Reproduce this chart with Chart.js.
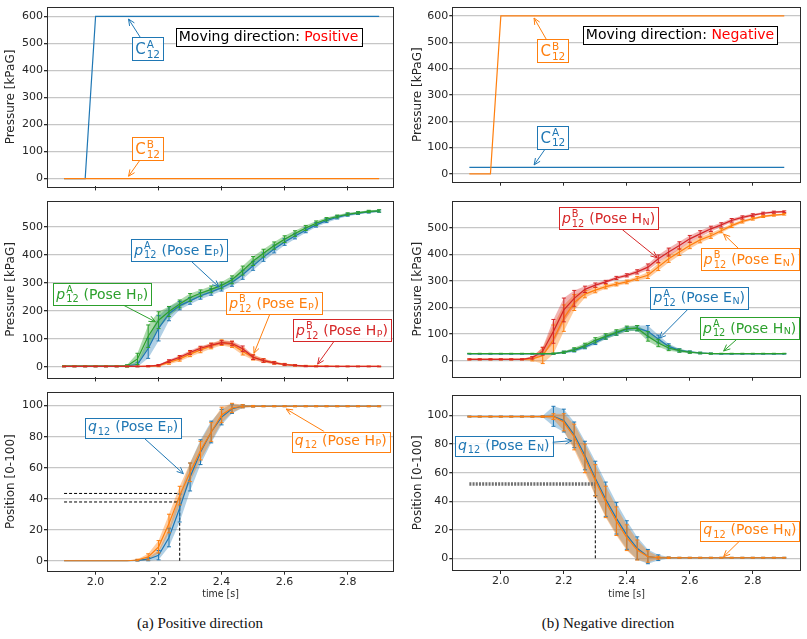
<!DOCTYPE html>
<html><head><meta charset="utf-8">
<script src="https://cdn.jsdelivr.net/npm/chart.js@4.4.0/dist/chart.umd.min.js"></script>
<style>
html,body{margin:0;padding:0;background:#fff;width:807px;height:639px;overflow:hidden;position:relative;}
canvas{position:absolute;}
.cap{position:absolute;font-family:'Liberation Serif','DejaVu Serif',serif;font-size:15px;color:#111;text-align:center;width:300px;line-height:18px;}
</style></head><body>
<div class="cap" style="left:50px;top:614px;">(a) Positive direction</div>
<div class="cap" style="left:458px;top:614px;">(b) Negative direction</div>
<script>
// ---------------- data ----------------
const T = [1.900,1.933,1.967,2.000,2.033,2.067,2.100,2.133,2.167,2.200,2.233,2.267,2.300,2.333,2.367,2.400,2.433,2.467,2.500,2.533,2.567,2.600,2.633,2.667,2.700,2.733,2.767,2.800,2.833,2.867,2.900];
const X_TICKS = [2.0,2.2,2.4,2.6,2.8];
const Y_TICKS_CMD = [0,100,200,300,400,500,600];
const Y_TICKS_P = [0,100,200,300,400,500];
const Y_TICKS_Q = [0,20,40,60,80,100];

// (a) positive: command pressures
const cA_pos = [0,0,0,600,600,600,600,600,600,600,600,600,600,600,600,600,600,600,600,600,600,600,600,600,600,600,600,600,600,600,600];
const cB_pos = [0,0,0,0,0,0,0,0,0,0,0,0,0,0,0,0,0,0,0,0,0,0,0,0,0,0,0,0,0,0,0];
// (b) negative: command pressures
const cB_neg = [0,0,0,600,600,600,600,600,600,600,600,600,600,600,600,600,600,600,600,600,600,600,600,600,600,600,600,600,600,600,600];
const cA_neg = [24,24,24,24,24,24,24,24,24,24,24,24,24,24,24,24,24,24,24,24,24,24,24,24,24,24,24,24,24,24,24];

// (a) measured pressures
const pA_EP    = [3,3,3,3,3,3,4,9,66,138,190,219,236,254,268,283,302,329,361,392,421,446,467,488,507,522,534,543,549,553,556];
const pA_EP_sd = [2,2,2,2,2,2,3,8,35,45,25,15,12,12,12,12,14,16,16,15,14,12,10,9,8,7,6,5,5,4,4];
const pA_HP    = [3,3,3,3,3,3,4,29,110,167,198,225,248,263,277,291,311,344,378,406,433,456,476,496,513,527,537,545,550,555,557];
const pA_HP_sd = [2,2,2,2,2,2,4,20,40,30,18,14,14,12,12,12,14,16,16,14,13,12,10,9,8,6,5,5,4,4,4];
const pB_EP    = [2,2,2,2,2,2,2,2,3,5,16,29,46,61,75,87,81,55,35,23,15,9,6,4,3,3,2,2,2,2,2];
const pB_EP_sd = [1,1,1,1,1,1,1,1,2,4,6,8,9,10,10,10,11,12,10,7,5,4,3,2,2,1,1,1,1,1,1];
const pB_HP    = [2,2,2,2,2,2,2,2,3,6,21,35,52,67,78,87,84,65,35,23,15,9,6,3,2,2,2,2,2,2,2];
const pB_HP_sd = [1,1,1,1,1,1,1,1,2,3,5,6,7,7,7,7,8,10,8,6,4,3,2,2,1,1,1,1,1,1,1];

// (b) measured pressures
const pB_HN    = [3,3,3,3,3,3,9,34,109,190,234,268,284,296,311,321,334,352,384,409,434,459,478,497,512,529,540,549,556,560,562];
const pB_HN_sd = [2,2,2,2,2,2,5,15,45,45,30,12,8,6,6,6,8,12,14,15,14,13,12,10,8,7,6,5,4,4,3];
const pB_EN    = [3,3,3,3,3,3,5,17,78,159,218,250,265,278,288,296,309,321,353,384,409,434,455,471,490,509,525,535,544,549,552];
const pB_EN_sd = [2,2,2,2,2,2,8,30,55,50,30,14,10,8,7,7,8,12,14,14,13,12,11,10,8,7,6,5,4,4,3];
const pA_EN    = [24,24,24,24,24,24,24,24,24,30,37,50,67,87,102,117,121,109,80,52,37,31,27,25,24,24,24,24,24,24,24];
const pA_EN_sd = [1,1,1,1,1,1,1,1,2,4,6,7,8,8,8,8,10,22,15,10,6,4,3,2,1,1,1,1,1,1,1];
const pA_HN    = [25,25,25,25,25,25,25,25,25,30,40,55,75,90,105,119,121,90,65,46,36,30,27,25,25,25,25,25,25,25,25];
const pA_HN_sd = [1,1,1,1,1,1,1,1,2,4,7,9,10,10,10,10,10,18,14,10,6,4,3,2,1,1,1,1,1,1,1];

// (a) positions
const q_EP    = [0,0,0,0,0,0,0,0.3,1,3.6,15,34,54,70,83,92.6,98,99.6,99.6,99.6,99.6,99.6,99.6,99.6,99.6,99.6,99.6,99.6,99.6,99.6,99.6];
const q_EP_sd = [0,0,0,0,0,0,0,0.5,1,3,6,9,9,8,7,5,3,1,0.5,0.3,0.3,0.3,0.3,0.3,0.3,0.3,0.3,0.3,0.3,0.3,0.3];
const q_HP    = [0,0,0,0,0,0,0,0.5,2.5,9,24,42,57,71,83,94,98.5,99.6,99.6,99.6,99.6,99.6,99.6,99.6,99.6,99.6,99.6,99.6,99.6,99.6,99.6];
const q_HP_sd = [0,0,0,0,0,0,0,0.5,2,4,6,6,6,6,6,5,3,1,0.5,0.3,0.3,0.3,0.3,0.3,0.3,0.3,0.3,0.3,0.3,0.3,0.3];
// (b) positions
const q_EN    = [99.3,99.3,99.3,99.3,99.3,99.3,99.3,99.3,99.5,96.5,86.5,72,56,41.4,28,16.3,7,1.2,0.4,0.4,0.4,0.4,0.4,0.4,0.4,0.4,0.4,0.4,0.4,0.4,0.4];
const q_EN_sd = [0.3,0.3,0.3,0.3,0.3,0.3,0.3,0.5,7,8,9,10,12,12,11,10,8,5,2,0.5,0.3,0.3,0.3,0.3,0.3,0.3,0.3,0.3,0.3,0.3,0.3];
const q_HN    = [99.3,99.3,99.3,99.3,99.3,99.3,99.3,99.3,99.3,95.3,85,70,54.6,39.5,26,14.4,5.8,1.2,0.4,0.4,0.4,0.4,0.4,0.4,0.4,0.4,0.4,0.4,0.4,0.4,0.4];
const q_HN_sd = [0.3,0.3,0.3,0.3,0.3,0.3,0.3,0.5,2,6,9,10,11,11,10,9,7,4,1,0.5,0.3,0.3,0.3,0.3,0.3,0.3,0.3,0.3,0.3,0.3,0.3];

// reference (dashed) guides
const REF_START = 1.9;
const POS_REF_LEVELS = [43.4, 37.9];
const POS_REF_TIME = 2.267;
const NEG_REF_LEVEL = 52.1;
const NEG_REF_TIME = 2.300;

// ---------------- styling ----------------
const BLUE='#1f77b4', ORANGE='#ff7f0e', GREEN='#2ca02c', RED='#d62728';
const FONT='"DejaVu Sans", "Liberation Sans", sans-serif';
function rgba(hex,a){const n=parseInt(hex.slice(1),16);return `rgba(${n>>16},${(n>>8)&255},${n&255},${a})`;}
function pts(v){return T.map((t,i)=>({x:t,y:v[i]}));}
function lineDs(v,color,sd){return {data:pts(v),borderColor:color,borderWidth:1.2,pointRadius:0,fill:false,errs:sd||null};}
function bandDs(v,sd,color,a){return [
  {data:T.map((t,i)=>({x:t,y:v[i]-sd[i]})),borderWidth:0,borderColor:'rgba(0,0,0,0)',pointRadius:0,fill:false},
  {data:T.map((t,i)=>({x:t,y:v[i]+sd[i]})),borderWidth:0,borderColor:'rgba(0,0,0,0)',pointRadius:0,fill:'-1',backgroundColor:rgba(color,a)}];}
function segLine(x1,y1,x2,y2,color,w,dash){return {data:[{x:x1,y:y1},{x:x2,y:y2}],borderColor:color,borderWidth:w,borderDash:dash,pointRadius:0,fill:false};}

// rich-text label segments
function segP(ab,pose,ps){return [{t:'p',it:1},{sup:ab,sub:'12'},{t:' (Pose '+pose},{lo:ps},{t:')'}];}
function segQ(pose,ps){return [{t:'q',it:1},{sub:'12'},{t:' (Pose '+pose},{lo:ps},{t:')'}];}
function segC(ab){return [{t:'C'},{sup:ab,sub:'12'}];}
function fstr(s,it){return (it?'italic ':'')+s+'px '+FONT;}

function layoutRich(ctx,segs,S){
  let w=0,top=0,bot=0;const parts=[];
  for(const g of segs){
    if(g.t!==undefined){
      const f=fstr(S,g.it);ctx.font=f;const m=ctx.measureText(g.t).width;
      parts.push({x:w,text:g.t,font:f,dy:0,color:g.color});w+=m;
      top=Math.min(top,-0.76*S);bot=Math.max(bot,0.2*S);
    } else if(g.lo!==undefined){
      const ss=S*0.68,f=fstr(ss);ctx.font=f;const m=ctx.measureText(g.lo).width;
      parts.push({x:w+0.5,text:g.lo,font:f,dy:0.12*S});w+=m+0.5;
    } else {
      const ss=S*0.7,f=fstr(ss);ctx.font=f;let mw=0;
      if(g.sup){const m=ctx.measureText(g.sup).width;mw=Math.max(mw,m);parts.push({x:w+1,text:g.sup,font:f,dy:-0.42*S});top=Math.min(top,-0.42*S-0.76*ss);}
      if(g.sub){const m=ctx.measureText(g.sub).width;mw=Math.max(mw,m);parts.push({x:w+1,text:g.sub,font:f,dy:0.26*S});bot=Math.max(bot,0.28*S);}
      w+=mw+1.5;
    }
  }
  return {w,top,bot,parts};
}

function makeNotes(items){return {id:'notes',afterDatasetsDraw(chart){
  const ctx=chart.ctx,xs=chart.scales.x,ys=chart.scales.y;
  items.forEach(it=>{
    const S=it.size||14;
    const L=layoutRich(ctx,it.segs,S);
    const px=3,py=2.5;
    const bw=L.w+2*px,bh=(L.bot-L.top)+2*py;
    const cx=xs.getPixelForValue(it.at[0]),cy=ys.getPixelForValue(it.at[1]);
    const bx=cx-bw/2,by=cy-bh/2;
    ctx.save();
    if(it.to){
      const tx=xs.getPixelForValue(it.to[0]),ty=ys.getPixelForValue(it.to[1]);
      const dx=tx-cx,dy=ty-cy;
      const s=Math.min(Math.abs(dx)>0?(bw/2)/Math.abs(dx):1e9,Math.abs(dy)>0?(bh/2)/Math.abs(dy):1e9);
      const sx=cx+dx*s,sy=cy+dy*s;
      const a=Math.atan2(ty-sy,tx-sx);
      const ex=tx-Math.cos(a)*1.5,ey=ty-Math.sin(a)*1.5;
      ctx.strokeStyle=it.color;ctx.lineWidth=1;
      ctx.beginPath();ctx.moveTo(sx,sy);ctx.lineTo(ex,ey);
      ctx.moveTo(ex-7*Math.cos(a-0.42),ey-7*Math.sin(a-0.42));ctx.lineTo(ex,ey);
      ctx.lineTo(ex-7*Math.cos(a+0.42),ey-7*Math.sin(a+0.42));
      ctx.stroke();
    }
    ctx.fillStyle=it.bg||'rgba(255,255,255,0.85)';
    ctx.fillRect(bx,by,bw,bh);
    ctx.strokeStyle=it.color;ctx.lineWidth=1;
    ctx.strokeRect(Math.round(bx)+0.5,Math.round(by)+0.5,Math.round(bw),Math.round(bh));
    const base=by+py-L.top,left=bx+px;
    ctx.textBaseline='alphabetic';ctx.textAlign='left';
    L.parts.forEach(p=>{ctx.font=p.font;ctx.fillStyle=p.color||it.color;ctx.fillText(p.text,left+p.x,base+p.dy);});
    ctx.restore();
  });
}};}

const errPlugin={id:'errbars',afterDatasetDraw(chart,args){
  const ds=chart.data.datasets[args.index];if(!ds.errs)return;
  const ctx=chart.ctx,xs=chart.scales.x,ys=chart.scales.y,a=chart.chartArea;
  ctx.save();ctx.beginPath();ctx.rect(a.left,a.top,a.right-a.left,a.bottom-a.top);ctx.clip();
  ctx.strokeStyle=ds.borderColor;ctx.lineWidth=1;ctx.beginPath();
  ds.data.forEach((p,i)=>{const e=ds.errs[i];if(!(e>0))return;
    const x=xs.getPixelForValue(p.x),y1=ys.getPixelForValue(p.y-e),y2=ys.getPixelForValue(p.y+e);
    ctx.moveTo(x,y1);ctx.lineTo(x,y2);ctx.moveTo(x-2,y1);ctx.lineTo(x+2,y1);ctx.moveTo(x-2,y2);ctx.lineTo(x+2,y2);});
  ctx.stroke();ctx.restore();
}};

const framePlugin={id:'frame',afterDraw(chart){
  const a=chart.chartArea,ctx=chart.ctx;ctx.save();ctx.strokeStyle='#2b2b2b';ctx.lineWidth=1;
  ctx.strokeRect(Math.round(a.left)-0.5,Math.round(a.top)-0.5,Math.round(a.right-a.left)+1,Math.round(a.bottom-a.top)+1);ctx.restore();
}};

function panel(geom,area,xr,yr,yticks,showX,yTitle,dsList,notes){
  const c=document.createElement('canvas');
  c.width=geom.w;c.height=geom.h;c.style.left=geom.x+'px';c.style.top=geom.y+'px';
  c.style.width=geom.w+'px';c.style.height=geom.h+'px';
  document.body.appendChild(c);
  const N=dsList.length;dsList.forEach((d,i)=>{d.order=N-i;});
  new Chart(c,{type:'line',data:{datasets:dsList},
    plugins:[errPlugin,makeNotes(notes),framePlugin],
    options:{responsive:false,animation:false,devicePixelRatio:1,
      layout:{padding:{left:0,top:area.t-geom.y,right:geom.x+geom.w-area.r,bottom:0}},
      plugins:{legend:{display:false},tooltip:{enabled:false}},
      elements:{line:{tension:0},point:{radius:0}},
      scales:{
        x:{type:'linear',min:xr[0],max:xr[1],
          afterBuildTicks:s=>{s.ticks=X_TICKS.map(v=>({value:v}));},
          afterFit:s=>{s.height=geom.y+geom.h-area.b;},
          grid:{drawOnChartArea:false,drawTicks:true,tickLength:4,tickColor:'#2b2b2b',color:'#2b2b2b'},
          border:{display:false},
          ticks:{display:showX,autoSkip:false,maxRotation:0,padding:1,color:'#262626',font:{family:FONT,size:11},callback:v=>Number(v).toFixed(1)},
          title:{display:showX,text:'time [s]',color:'#262626',font:{family:'"DejaVu Sans Condensed", "Liberation Sans", sans-serif',size:10.5},padding:{top:2,bottom:4}}},
        y:{type:'linear',min:yr[0],max:yr[1],
          afterBuildTicks:s=>{s.ticks=yticks.map(v=>({value:v}));},
          afterFit:s=>{s.width=area.l-geom.x;},
          grid:{color:'#c6c6c6',lineWidth:1.3,drawTicks:true,tickLength:4,tickColor:'#2b2b2b'},
          border:{display:false},
          ticks:{autoSkip:false,padding:1,color:'#262626',font:{family:FONT,size:11}},
          title:{display:true,text:yTitle,color:'#262626',font:{family:FONT,size:12},padding:{top:4,bottom:4}}}
      }}});
}

const XL=[1.849,2.944], XR=[1.849,2.950];
const PR='Pressure [kPaG]', PO='Position [0-100]';

// ---------- (a) top ----------
panel({x:0,y:0,w:400,h:194},{l:48,t:7,r:393,b:189},XL,[-29,632.7],Y_TICKS_CMD,false,PR,
  [lineDs(cA_pos,BLUE),lineDs(cB_pos,ORANGE)],
  [{segs:segC('A'),color:BLUE,at:[2.166,479],to:[2.102,595],size:15},
   {segs:segC('B'),color:ORANGE,at:[2.166,110],to:[2.102,4],size:15},
   {segs:[{t:'Moving direction: ',color:'#000'},{t:'Positive',color:'#ff0000'}],color:'#000',at:[2.549,524],bg:'#fff'}]);
// ---------- (a) middle ----------
panel({x:0,y:194,w:400,h:191},{l:48,t:199,r:393,b:380},XL,[-37,590],Y_TICKS_P,false,PR,
  [...bandDs(pA_EP,pA_EP_sd,BLUE,0.35),...bandDs(pA_HP,pA_HP_sd,GREEN,0.4),
   lineDs(pA_EP,BLUE,pA_EP_sd),lineDs(pA_HP,GREEN,pA_HP_sd),
   ...bandDs(pB_EP,pB_EP_sd,ORANGE,0.4),...bandDs(pB_HP,pB_HP_sd,RED,0.35),
   lineDs(pB_EP,ORANGE,pB_EP_sd),lineDs(pB_HP,RED,pB_HP_sd)],
  [{segs:segP('A','E','P'),color:BLUE,at:[2.2655,417],to:[2.395,282]},
   {segs:segP('A','H','P'),color:GREEN,at:[2.021,260],to:[2.194,159]},
   {segs:segP('B','E','P'),color:ORANGE,at:[2.567,227],to:[2.501,44]},
   {segs:segP('B','H','P'),color:RED,at:[2.782,131],to:[2.702,6]}]);
// ---------- (a) bottom ----------
panel({x:0,y:385,w:400,h:220},{l:48,t:390,r:393,b:570.7},XL,[-6.4,108.4],Y_TICKS_Q,true,PO,
  [...bandDs(q_EP,q_EP_sd,BLUE,0.35),...bandDs(q_HP,q_HP_sd,ORANGE,0.4),
   ...POS_REF_LEVELS.map(l=>segLine(REF_START,l,POS_REF_TIME,l,'#000',1,[3,2])),
   segLine(POS_REF_TIME,0,POS_REF_TIME,POS_REF_LEVELS[0],'#000',1,[3,2]),
   lineDs(q_EP,BLUE,q_EP_sd),lineDs(q_HP,ORANGE,q_HP_sd)],
  [{segs:segQ('E','P'),color:BLUE,at:[2.119,85.5],to:[2.282,55.5]},
   {segs:segQ('H','P'),color:ORANGE,at:[2.778,77],to:[2.601,98.3]}]);

// ---------- (b) top ----------
panel({x:407,y:0,w:400,h:194},{l:453.3,t:5.7,r:800,b:181.7},XR,[-30.1,631.6],Y_TICKS_CMD,false,PR,
  [lineDs(cA_neg,BLUE),lineDs(cB_neg,ORANGE)],
  [{segs:segC('B'),color:ORANGE,at:[2.166,466],to:[2.103,597],size:15},
   {segs:segC('A'),color:BLUE,at:[2.166,138],to:[2.103,29],size:15},
   {segs:[{t:'Moving direction: ',color:'#000'},{t:'Negative',color:'#ff0000'}],color:'#000',at:[2.569,526],bg:'#fff'}]);
// ---------- (b) middle ----------
panel({x:407,y:194,w:400,h:194},{l:453.3,t:200,r:800,b:376.7},XR,[-62.6,600],Y_TICKS_P,false,PR,
  [...bandDs(pB_EN,pB_EN_sd,ORANGE,0.4),...bandDs(pB_HN,pB_HN_sd,RED,0.35),
   lineDs(pB_EN,ORANGE,pB_EN_sd),lineDs(pB_HN,RED,pB_HN_sd),
   ...bandDs(pA_EN,pA_EN_sd,BLUE,0.35),...bandDs(pA_HN,pA_HN_sd,GREEN,0.4),
   lineDs(pA_EN,BLUE,pA_EN_sd),lineDs(pA_HN,GREEN,pA_HN_sd)],
  [{segs:segP('B','H','N'),color:RED,at:[2.342,536],to:[2.50,384]},
   {segs:segP('B','E','N'),color:ORANGE,at:[2.790,382],to:[2.704,481]},
   {segs:segP('A','E','N'),color:BLUE,at:[2.630,236],to:[2.50,79]},
   {segs:segP('A','H','N'),color:GREEN,at:[2.790,122],to:[2.704,31]}]);
// ---------- (b) bottom ----------
panel({x:407,y:388,w:400,h:217},{l:453.3,t:395,r:800,b:570},XR,[-8.2,114],Y_TICKS_Q,true,PO,
  [...bandDs(q_EN,q_EN_sd,BLUE,0.35),...bandDs(q_HN,q_HN_sd,ORANGE,0.4),
   segLine(REF_START,NEG_REF_LEVEL,NEG_REF_TIME,NEG_REF_LEVEL,'#707070',3.5,[2,1.2]),
   segLine(NEG_REF_TIME,0,NEG_REF_TIME,NEG_REF_LEVEL,'#000',1,[3,2]),
   lineDs(q_EN,BLUE,q_EN_sd),lineDs(q_HN,ORANGE,q_HN_sd)],
  [{segs:segQ('E','N'),color:BLUE,at:[2.009,78.5],to:[2.230,82.5]},
   {segs:segQ('H','N'),color:ORANGE,at:[2.791,19.2],to:[2.704,0.4]}]);
</script>
</body></html>
